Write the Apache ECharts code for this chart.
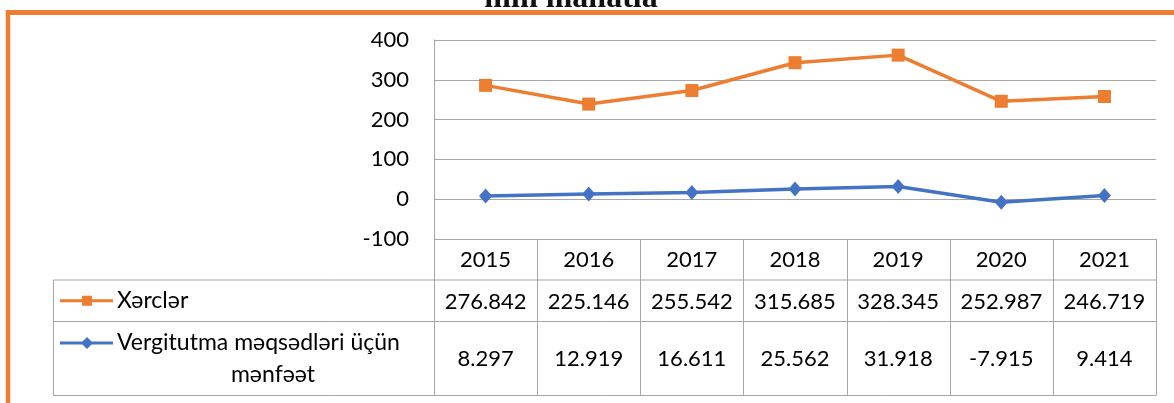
<!DOCTYPE html>
<html>
<head>
<meta charset="utf-8">
<script src="https://cdn.jsdelivr.net/npm/echarts@6/dist/echarts.min.js"></script>
<style>
html, body { margin: 0; padding: 0; background: #fff; }
#main { width: 1174px; height: 403px; }
</style>
</head>
<body>
<div id="main"></div>
<script>
// categories
const years = ['2015', '2016', '2017', '2018', '2019', '2020', '2021'];
// y axis range
const yMin = -100;
const yMax = 400;
const yStep = 100;
// plotted values
const expenseLine = [286, 239, 273, 343, 362, 246, 258];
const profitLine = [8.297, 12.919, 16.611, 25.562, 31.918, -7.915, 9.414];
// values printed in the data table
const expenseTable = ['276.842', '225.146', '255.542', '315.685', '328.345', '252.987', '246.719'];
const profitTable = ['8.297', '12.919', '16.611', '25.562', '31.918', '-7.915', '9.414'];
const seriesNames = ['Xərclər', 'Vergitutma məqsədləri üçün', 'mənfəət'];
const titleText = 'mln manatla';

const ORANGE = '#ED7D31';
const BLUE = '#4472C4';
const GRID = '#A6A6A6';
const FONT = 'Lato';

// layout
const plotLeft = 434;
const plotRight = 1156;
const plotTop = 40;
const plotBottom = 239;
const rowYear = 280;
const rowExp = 321.5;
const rowEnd = 395.5;
const tableLeft = 53.5;

const chartDom = document.getElementById('main');
const LocalChart = echarts.init(chartDom);

function hLine(x1, x2, y, color, w) {
    return { type: 'line', silent: true, z: 10,
        shape: { x1: x1, y1: y, x2: x2, y2: y },
        style: { stroke: color, lineWidth: w } };
}
function vLine(x, y1, y2, color, w) {
    return { type: 'line', silent: true, z: 10,
        shape: { x1: x, y1: y1, x2: x, y2: y2 },
        style: { stroke: color, lineWidth: w } };
}
function cellText(text, x, y, align, size) {
    return { type: 'text', silent: true, z: 11, x: x, y: y,
        style: { text: text, font: (size || 22) + 'px ' + FONT, fill: '#000',
            align: align || 'center', verticalAlign: 'middle' } };
}

function buildGraphic() {
    const g = [];
    const colW = (plotRight - plotLeft) / years.length;

    // orange frame + cut title
    g.push(hLine(6, 1174, 12.5, ORANGE, 5));
    g.push(vLine(8, 10, 403, ORANGE, 4.5));
    g.push({ type: 'text', silent: true, z: 11, x: 571, y: 15,
        style: { text: titleText, font: 'bold 32px "Liberation Serif"', fill: '#111',
            align: 'center', verticalAlign: 'bottom' } });

    // table grid
    [rowYear, rowExp, rowEnd].forEach(function (y) {
        g.push(hLine(tableLeft, plotRight, y, GRID, 1));
    });
    g.push(vLine(tableLeft, rowYear, rowEnd, GRID, 1));
    for (let k = 0; k <= years.length; k++) {
        const x = Math.round(plotLeft + k * colW) + 0.5;
        g.push(vLine(x, plotBottom, rowEnd, GRID, 1));
    }

    // cells
    years.forEach(function (yr, i) {
        const cx = plotLeft + (i + 0.5) * colW;
        g.push(cellText(yr, cx, (plotBottom + rowYear) / 2));
        g.push(cellText(expenseTable[i], cx, (rowYear + rowExp) / 2 + 1));
        g.push(cellText(profitTable[i], cx, (rowExp + rowEnd) / 2));
    });

    // legend keys
    const yExp = (rowYear + rowExp) / 2;
    g.push(hLine(60, 113, yExp, ORANGE, 3));
    g.push({ type: 'rect', silent: true, z: 11,
        shape: { x: 82, y: yExp - 5, width: 10, height: 10 },
        style: { fill: ORANGE } });
    g.push(cellText(seriesNames[0], 117, yExp, 'left', 23));

    const yProf = 343;
    g.push(hLine(60, 113, yProf, BLUE, 3));
    g.push({ type: 'polygon', silent: true, z: 11,
        shape: { points: [[87, yProf - 6], [93, yProf], [87, yProf + 6], [81, yProf]] },
        style: { fill: BLUE } });
    g.push(cellText(seriesNames[1], 117, yProf, 'left', 23));
    g.push(cellText(seriesNames[2], 273, 375, 'center', 23));

    return g;
}

const Option = {
    animation: false,
    grid: {
        left: plotLeft,
        right: 1174 - plotRight,
        top: plotTop,
        bottom: 403 - plotBottom,
        containLabel: false
    },
    xAxis: {
        type: 'category',
        data: years,
        boundaryGap: true,
        axisLine: { show: false },
        axisTick: { show: false },
        axisLabel: { show: false },
        splitLine: { show: false }
    },
    yAxis: {
        type: 'value',
        min: yMin,
        max: yMax,
        interval: yStep,
        axisLine: { show: true, lineStyle: { color: GRID, width: 1 } },
        axisTick: { show: false },
        axisLabel: { margin: 25, color: '#000', fontSize: 22, fontFamily: FONT },
        splitLine: { lineStyle: { color: GRID, width: 1 } }
    },
    series: [{
        name: seriesNames[0],
        type: 'line',
        data: expenseLine,
        symbol: 'rect',
        symbolSize: 13,
        itemStyle: { color: ORANGE },
        lineStyle: { color: ORANGE, width: 3.5 },
        z: 3
    }, {
        name: seriesNames[1] + ' ' + seriesNames[2],
        type: 'line',
        data: profitLine,
        symbol: 'diamond',
        symbolSize: [13, 15],
        itemStyle: { color: BLUE },
        lineStyle: { color: BLUE, width: 3.5 },
        z: 4
    }],
    graphic: buildGraphic()
};

LocalChart.setOption(Option);
</script>
</body>
</html>
